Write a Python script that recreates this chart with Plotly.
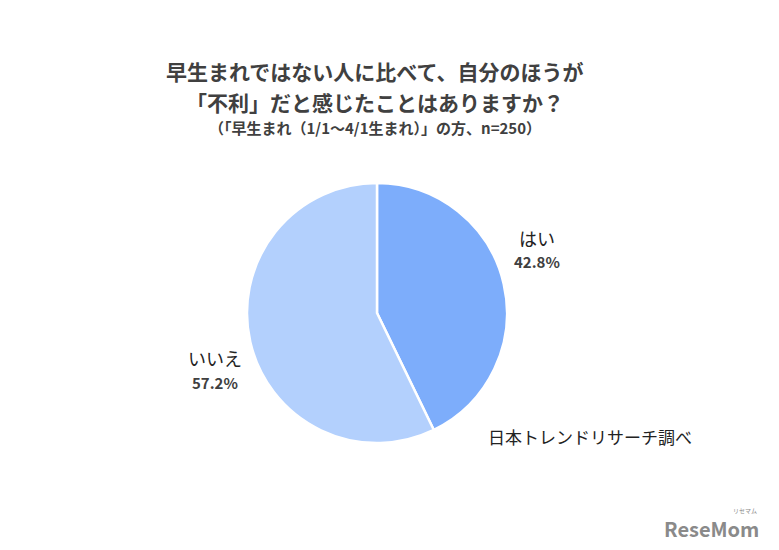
import plotly.graph_objects as go

labels = ["はい", "いいえ"]
values = [42.8, 57.2]
colors = ["#7dadfb", "#b3d0fd"]

W, H = 779, 550
FONT = "Noto Sans CJK JP"

fig = go.Figure(go.Pie(
    labels=labels, values=values, sort=False, direction="clockwise", rotation=0,
    marker=dict(colors=colors, line=dict(color="white", width=2.5)),
    textinfo="none", hoverinfo="label+percent", showlegend=False,
    domain=dict(x=[(377 - 130) / W, (377 + 130) / W], y=[1 - 443 / H, 1 - 183 / H]),
))

def ann(text, x, y, size, color="#404040", bold=False):
    t = f"<b>{text}</b>" if bold else text
    fig.add_annotation(text=t, x=x / W, y=1 - y / H, xref="paper", yref="paper",
                       showarrow=False, xanchor="center", yanchor="middle",
                       font=dict(family=FONT, size=size, color=color))

ann("早生まれではない人に比べて、自分のほうが", 374, 71, 21, bold=True)
ann("「不利」だと感じたことはありますか？", 375, 102, 21, bold=True)
ann("（「早生まれ（1/1～4/1生まれ）」の方、n=250）", 375, 127, 15, bold=True)

label_pos = [(537, 238, 261), (215, 358, 382)]
for lab, val, (x, y1, y2) in zip(labels, values, label_pos):
    ann(lab, x, y1, 18, color="#222222")
    ann(f"{val:.1f}%", x, y2, 15, bold=True)

ann("日本トレンドリサーチ調べ", 590, 436, 17, color="#222222")
ann("ReseMom", 711, 528, 20, color="#8a8a8a", bold=True)
ann("リセマム", 745, 510, 6, color="#8a8a8a")

fig.update_layout(width=W, height=H, margin=dict(l=0, r=0, t=0, b=0),
                  paper_bgcolor="white", plot_bgcolor="white")
fig.write_html("out.html", config={"displayModeBar": False},
               post_script="document.body.style.margin='0';")
